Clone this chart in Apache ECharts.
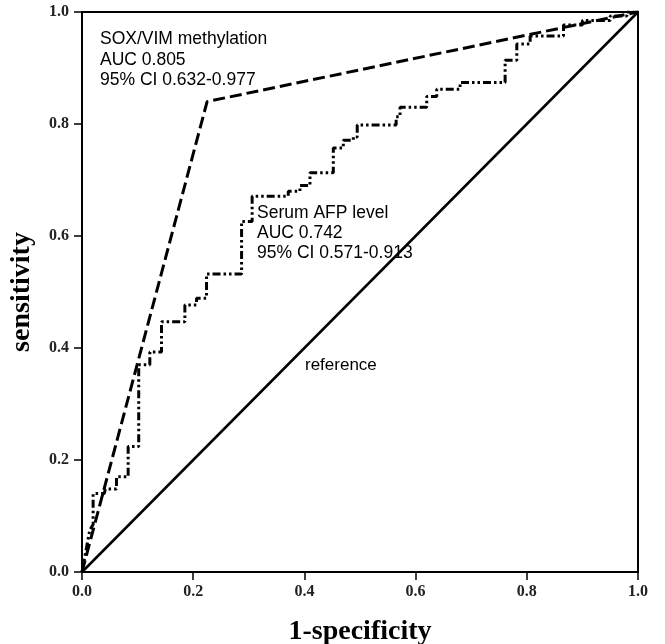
<!DOCTYPE html>
<html>
<head>
<meta charset="utf-8">
<script src="https://cdn.jsdelivr.net/npm/echarts@6/dist/echarts.min.js"></script>
<style>html,body{margin:0;padding:0;background:#fff;}#c{width:665px;height:644px;}</style>
</head>
<body>
<div id="c"></div>
<script>
var tickValues = [0, 0.2, 0.4, 0.6, 0.8, 1.0];
var soxFpr = [0, 0.225, 1];
var soxSens = [0, 0.84, 1];
var refFpr = [0, 1];
var refSens = [0, 1];
var afpFpr = [0, 0.014, 0.02, 0.02, 0.04, 0.042, 0.062, 0.062, 0.083, 0.083, 0.102, 0.102, 0.122, 0.122, 0.143, 0.143, 0.185, 0.185, 0.206, 0.206, 0.224, 0.224, 0.287, 0.287, 0.306, 0.306, 0.371, 0.371, 0.392, 0.392, 0.41, 0.41, 0.452, 0.452, 0.47, 0.47, 0.488, 0.488, 0.495, 0.495, 0.565, 0.565, 0.572, 0.572, 0.62, 0.62, 0.638, 0.638, 0.68, 0.68, 0.761, 0.761, 0.782, 0.782, 0.806, 0.806, 0.866, 0.866, 0.9, 0.9, 0.95, 0.95, 0.98, 0.98, 1];
var afpSens = [0, 0.075, 0.085, 0.14, 0.14, 0.148, 0.148, 0.17, 0.17, 0.224, 0.224, 0.37, 0.37, 0.393, 0.393, 0.447, 0.447, 0.477, 0.477, 0.489, 0.489, 0.532, 0.532, 0.626, 0.626, 0.671, 0.671, 0.68, 0.68, 0.69, 0.69, 0.713, 0.713, 0.757, 0.757, 0.771, 0.771, 0.777, 0.777, 0.798, 0.798, 0.813, 0.813, 0.83, 0.83, 0.849, 0.849, 0.862, 0.862, 0.874, 0.874, 0.914, 0.914, 0.943, 0.943, 0.957, 0.957, 0.977, 0.977, 0.985, 0.985, 0.993, 0.993, 1, 1];
var soxLabel = ['SOX/VIM methylation', 'AUC 0.805', '95% CI 0.632-0.977'];
var afpLabel = ['Serum AFP level', 'AUC 0.742', '95% CI 0.571-0.913'];
var refLabel = 'reference';

function pairs(xs, ys) { return xs.map(function (x, i) { return [x, ys[i]]; }); }

var chart = echarts.init(document.getElementById('c'), null, { renderer: 'canvas' });
var axisCommon = {
  type: 'value', min: 0, max: 1, interval: 0.2,
  axisLine: { show: true, lineStyle: { color: '#000', width: 2 } },
  axisTick: { show: true, inside: false, length: 8, lineStyle: { color: '#000', width: 1.5 } },
  splitLine: { show: false },
  axisLabel: { color: '#222', fontFamily: 'Liberation Serif', fontWeight: 'bold', fontSize: 16,
    formatter: function (v) { return v.toFixed(1); } },
  nameLocation: 'middle',
  nameTextStyle: { color: '#000', fontFamily: 'Liberation Serif', fontWeight: 'bold', fontSize: 28 }
};
chart.setOption({
  animation: false,
  backgroundColor: '#fff',
  grid: { left: 82, right: 27, top: 12, bottom: 72, containLabel: false, outerBoundsMode: 'none', show: true, borderColor: '#000', borderWidth: 2, backgroundColor: 'transparent' },
  xAxis: Object.assign({}, axisCommon, { name: '1-specificity', nameGap: 46, axisLabel: Object.assign({}, axisCommon.axisLabel, { margin: 12 }) }),
  yAxis: Object.assign({}, axisCommon, { name: 'sensitivity', nameGap: 46, axisLabel: Object.assign({}, axisCommon.axisLabel, { margin: 13 }) }),
  series: [
    { type: 'line', data: pairs(refFpr, refSens), symbol: 'none', lineStyle: { color: '#000', width: 2.5 }, z: 2 },
    { type: 'line', data: pairs(soxFpr, soxSens), symbol: 'none', lineStyle: { color: '#000', width: 3, type: [12, 5] }, z: 3 },
    { type: 'line', data: pairs(afpFpr, afpSens), symbol: 'none', lineStyle: { color: '#000', width: 3, type: [8, 3, 2.5, 3, 2.5, 3] }, z: 4 }
  ],
  graphic: [
    { type: 'text', left: 100, top: 29, style: { text: soxLabel.join('\n'), font: '17.5px "Liberation Sans"', lineHeight: 20.5, fill: '#000' } },
    { type: 'text', left: 257, top: 203, style: { text: afpLabel.join('\n'), font: '17.5px "Liberation Sans"', lineHeight: 20, fill: '#000' } },
    { type: 'text', left: 305, top: 357, style: { text: refLabel, font: '17px "Liberation Sans"', fill: '#000' } }
  ]
});
</script>
</body>
</html>
